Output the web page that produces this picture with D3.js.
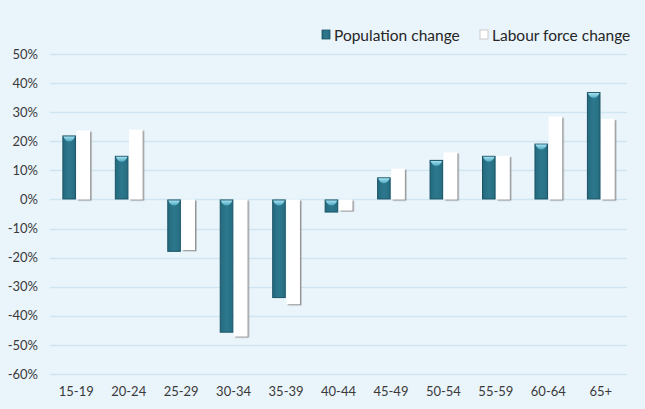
<html>
<head>
<script src="https://cdn.jsdelivr.net/npm/d3@7/dist/d3.min.js"></script>
<style>
  body { margin: 0; background: #eaf4fb; }
  svg { display: block; font-family: Lato, "Open Sans", sans-serif; }
</style>
</head>
<body>
<svg></svg>
<script>
// age groups and percent changes
var groups = ["15-19","20-24","25-29","30-34","35-39","40-44","45-49","50-54","55-59","60-64","65+"];
var popChange = [22, 15, -18, -45.8, -33.9, -4.5, 7.6, 13.6, 15, 19.2, 36.9];
var labChange = [23.7, 24, -17.4, -47.1, -36, -3.8, 10.6, 16.2, 15, 28.5, 27.7];
var seriesNames = ["Population change", "Labour force change"];
var yTicks = [50, 40, 30, 20, 10, 0, -10, -20, -30, -40, -50, -60];

var W = 645, H = 409;
var plotL = 50, plotR = 627, plotT = 54, plotB = 374;

var svg = d3.select("svg").attr("width", W).attr("height", H);

// gradients / filters
var defs = svg.append("defs");
var tg = defs.append("linearGradient").attr("id", "teal").attr("x1", 0).attr("x2", 1).attr("y1", 0).attr("y2", 0);
tg.append("stop").attr("offset", "0%").attr("stop-color", "#246a7e");
tg.append("stop").attr("offset", "50%").attr("stop-color", "#2d788d");
tg.append("stop").attr("offset", "100%").attr("stop-color", "#266d81");
var hg = defs.append("linearGradient").attr("id", "hl").attr("x1", 0).attr("x2", 0).attr("y1", 0).attr("y2", 1);
hg.append("stop").attr("offset", "0%").attr("stop-color", "#a6e2f2");
hg.append("stop").attr("offset", "100%").attr("stop-color", "#4aa6c0");
var sh = defs.append("filter").attr("id", "shadow").attr("x", "-20%").attr("y", "-5%").attr("width", "150%").attr("height", "115%");
sh.append("feDropShadow").attr("dx", 1.5).attr("dy", 1.2).attr("stdDeviation", 0.6)
  .attr("flood-color", "#8a8a8a").attr("flood-opacity", 0.9);

var y = d3.scaleLinear().domain([-60, 50]).range([plotB, plotT]);
var x0 = d3.scaleBand().domain(groups).range([plotL, plotR]).paddingInner(0.45).paddingOuter(0.225);
var x1 = d3.scaleBand().domain([0, 1]).range([0, x0.bandwidth()]).padding(0.04);

// grid lines
svg.append("g").selectAll("line").data(yTicks).enter().append("line")
  .attr("x1", plotL).attr("x2", plotR)
  .attr("y1", function(d){ return Math.round(y(d)) + 0.5; })
  .attr("y2", function(d){ return Math.round(y(d)) + 0.5; })
  .attr("stroke", "#d0e5f2").attr("stroke-width", 1.5);

// y axis labels
var yAxis = d3.axisLeft(y).tickValues(yTicks).tickSize(0).tickPadding(0)
  .tickFormat(function(d){ return d + "%"; });
var ya = svg.append("g").attr("transform", "translate(38,0)").call(yAxis);
ya.select(".domain").remove();
ya.selectAll("text").attr("font-size", 13).attr("fill", "#3a3a3a")
  .attr("font-family", "Lato, sans-serif");

// x axis labels
var xAxis = d3.axisBottom(x0).tickSize(0).tickPadding(0);
var xa = svg.append("g").attr("transform", "translate(0,387)").call(xAxis);
xa.select(".domain").remove();
xa.selectAll("text").attr("font-size", 13).attr("fill", "#3a3a3a")
  .attr("font-family", "Lato, sans-serif");

var rows = groups.map(function(g, i){ return { g: g, v: [popChange[i], labChange[i]] }; });

var grp = svg.append("g").selectAll("g").data(rows).enter().append("g")
  .attr("transform", function(d){ return "translate(" + x0(d.g) + ",0)"; });

// labour force bars (white with shadow)
grp.append("rect")
  .attr("x", x1(1))
  .attr("y", function(d){ return y(Math.max(0, d.v[1])); })
  .attr("width", x1.bandwidth())
  .attr("height", function(d){ return Math.abs(y(d.v[1]) - y(0)); })
  .attr("fill", "#ffffff")
  .attr("filter", "url(#shadow)");

// population bars (teal)
grp.append("rect")
  .attr("x", x1(0) + 0.5)
  .attr("y", function(d){ return y(Math.max(0, d.v[0])) + 0.5; })
  .attr("width", x1.bandwidth() - 1)
  .attr("height", function(d){ return Math.abs(y(d.v[0]) - y(0)) - 1; })
  .attr("fill", "url(#teal)")
  .attr("stroke", "#1b5465").attr("stroke-width", 1);

// bevel highlight on top of teal bars
grp.append("path")
  .attr("d", function(d){
    var bx = x1(0), bw = x1.bandwidth(), by = y(Math.max(0, d.v[0]));
    var hh = Math.min(6, Math.abs(y(d.v[0]) - y(0)) - 2);
    return "M" + (bx + 1) + "," + (by + 1) +
      "L" + (bx + bw - 1) + "," + (by + 1) +
      "Q" + (bx + bw - 3) + "," + (by + hh) + " " + (bx + bw / 2) + "," + (by + hh) +
      "Q" + (bx + 3) + "," + (by + hh) + " " + (bx + 1) + "," + (by + 1) + "Z";
  })
  .attr("fill", "url(#hl)");

// legend
var legX = [322, 480];
var leg = svg.append("g").selectAll("g").data(seriesNames).enter().append("g")
  .attr("transform", function(d, i){ return "translate(" + legX[i] + ",30)"; });
leg.append("rect").attr("width", 8).attr("height", 9).attr("y", 0)
  .attr("fill", function(d, i){ return i === 0 ? "url(#teal)" : "#ffffff"; })
  .attr("stroke", function(d, i){ return i === 0 ? "#1b5465" : "#c0c0c0"; })
  .attr("stroke-width", 0.8);
leg.append("text").attr("x", 12).attr("y", 10.5)
  .attr("font-size", 15.5).attr("fill", "#262626")
  .text(function(d){ return d; });
</script>
</body>
</html>
